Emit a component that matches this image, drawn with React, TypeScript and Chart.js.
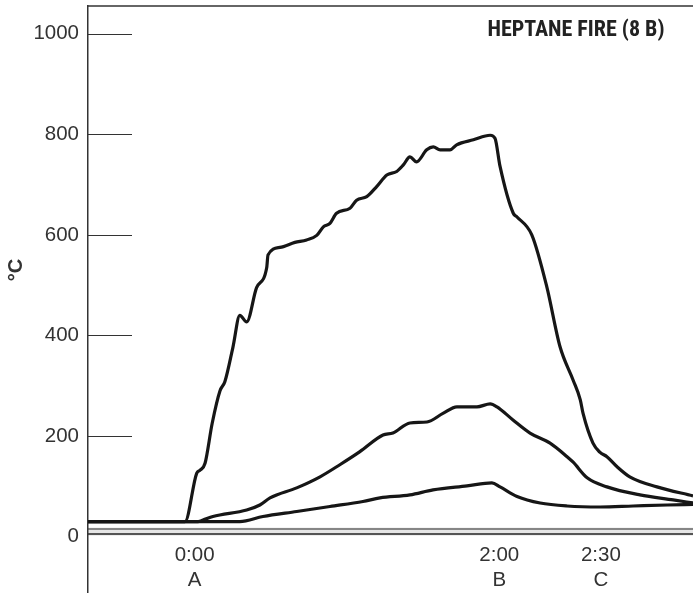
import React, { useEffect, useRef } from "react";
import { Chart, registerables } from "chart.js";

Chart.register(...registerables);

// ---- data (time in seconds relative to event A, temperature in °C) ----
const mainTimes = [
  -42, -3.8, 0.8, 2.1, 4.1, 6.9, 10.0, 11.9, 15.1, 17.8,
  20.5, 24.4, 28.4, 28.9, 33.6, 39.5, 44.1, 48.1, 50.7, 53.3,
  55.9, 61.2, 63.8, 67.8, 71.7, 75.7, 79.6, 82.2, 84.8, 87.4,
  91.4, 94.0, 96.7, 100.6, 103.2, 109.8, 116.4, 118.3, 120.3, 125.5,
  126.9, 132.8, 138.7, 143.9, 149.1, 151.9, 153.0, 156.9, 159.6, 162.4,
  166.4, 171.4, 182.1, 196.3,
];
const mainTemps = [
  30, 30, 126, 132, 146, 225, 290, 308, 377, 440,
  427, 495, 535, 560, 575, 585, 590, 599, 616, 623,
  643, 653, 669, 676, 696, 719, 726, 739, 755, 745,
  769, 775, 769, 769, 779, 789, 798, 792, 736, 643,
  636, 600, 497, 378, 311, 272, 245, 186, 168, 159,
  139, 119, 99, 81,
];

const midTimes = [
  -42, 1.4, 3.3, 7.2, 20.5, 25.7, 29.7, 40.2, 49.4, 57.2,
  65.1, 74.2, 78.1, 84.8, 91.5, 97.8, 103.3, 111.2, 116.4, 119.1,
  125.4, 132.1, 140.0, 146.7, 149.1, 154.6, 162.4, 175.4, 188.5, 196.3,
];
const midTemps = [
  30, 30, 33, 40, 53, 63, 77, 97, 119, 143,
  169, 202, 206, 226, 228, 245, 258, 258, 264, 258,
  232, 206, 186, 159, 148, 117, 99, 83, 73, 67,
];

const lowTimes = [
  -42, 17.8, 26.9, 40.2, 53.3, 66.3, 73.0, 84.8, 93.9, 107.3,
  117.1, 120.3, 127.0, 136.1, 146.7, 159.7, 172.7, 186.1, 196.3,
];
const lowTemps = [
  30, 30, 40, 50, 60, 70, 77, 83, 93, 101,
  107, 99, 80, 67, 61, 59, 61, 63, 64,
];

const yTickValues = [0, 200, 400, 600, 800, 1000];
const xTickValues = [0, 120, 160];
const xTickTimes = ["0:00", "2:00", "2:30"];
const xTickEvents = ["A", "B", "C"];

const chartTitle = "HEPTANE FIRE (8 B)";
const yAxisTitle = "°C";

// ---- styling ----
const INK = "#161616";
const TEXT = "#333333";
const LABEL_FONT = "'Liberation Sans', Arial, sans-serif";

const toPoints = (xs: number[], ys: number[]) =>
  xs.map((x, i) => ({ x, y: ys[i] }));

const decorPlugin = {
  id: "decor",
  beforeDraw(chart: any) {
    const { ctx, chartArea: a, scales } = chart;
    const y = scales.y;
    ctx.save();
    // light band around the base rule
    const top = y.getPixelForValue(18);
    const bot = y.getPixelForValue(2);
    ctx.fillStyle = "#e6e6e6";
    ctx.fillRect(a.left, top, a.right - a.left, bot - top);
    // upper rule of the double line
    ctx.strokeStyle = "#666";
    ctx.lineWidth = 1.5;
    const yl = y.getPixelForValue(15);
    ctx.beginPath();
    ctx.moveTo(a.left, yl);
    ctx.lineTo(a.right, yl);
    ctx.stroke();
    ctx.restore();
  },
  afterDraw(chart: any) {
    const { ctx, chartArea: a, scales } = chart;
    const y = scales.y;
    ctx.save();
    // top frame line
    ctx.strokeStyle = TEXT;
    ctx.lineWidth = 1.5;
    ctx.beginPath();
    ctx.moveTo(a.left, a.top);
    ctx.lineTo(a.right, a.top);
    ctx.stroke();
    // inward tick marks (the zero mark coincides with the base rule)
    ctx.lineWidth = 1.2;
    y.ticks.forEach((t: any) => {
      if (t.value === 0) return;
      const py = Math.round(y.getPixelForValue(t.value)) + 0.5;
      ctx.beginPath();
      ctx.moveTo(a.left, py);
      ctx.lineTo(a.left + 44, py);
      ctx.stroke();
    });
    // chart title
    ctx.fillStyle = "#222";
    ctx.font = "bold 22px 'Liberation Sans Narrow', 'Roboto Condensed', Roboto, sans-serif";
    ctx.textAlign = "center";
    ctx.textBaseline = "middle";
    ctx.fillText(chartTitle, 576, 30);
    // y-axis title, rotated
    ctx.translate(16, 270);
    ctx.rotate(-Math.PI / 2);
    ctx.font = "bold 20px " + LABEL_FONT;
    ctx.fillStyle = TEXT;
    ctx.fillText(yAxisTitle, 0, 0);
    ctx.restore();
  },
};

export default function App() {
  const ref = useRef<HTMLCanvasElement | null>(null);

  useEffect(() => {
    if (!ref.current) return;
    const lineStyle = {
      borderColor: INK,
      borderWidth: 3.2,
      pointRadius: 0,
      fill: false,
      cubicInterpolationMode: "monotone" as const,
    };
    const chart = new Chart(ref.current, {
      type: "line",
      data: {
        datasets: [
          { label: "Upper", data: toPoints(mainTimes, mainTemps), ...lineStyle },
          { label: "Middle", data: toPoints(midTimes, midTemps), ...lineStyle },
          { label: "Lower", data: toPoints(lowTimes, lowTemps), ...lineStyle },
        ],
      },
      options: {
        animation: false,
        responsive: false,
        layout: { padding: { top: 6, left: 0, right: 0, bottom: 0 } },
        plugins: {
          legend: { display: false },
          tooltip: { enabled: false },
          title: { display: false },
        },
        scales: {
          x: {
            type: "linear",
            min: -42,
            max: 196.3,
            position: { y: 5 } as any,
            grid: { display: false, drawTicks: false },
            border: { display: true, color: "#555", width: 2 },
            afterBuildTicks: (s: any) => {
              s.ticks = xTickValues.map((v) => ({ value: v }));
            },
            afterFit: (s: any) => {
              s.paddingLeft = 0;
              s.paddingRight = 0;
            },
            ticks: {
              autoSkip: false,
              maxRotation: 0,
              minRotation: 0,
              padding: 9,
              color: TEXT,
              font: { family: LABEL_FONT, size: 20.5, lineHeight: 1.2 },
              callback: (v: any) => {
                const i = xTickValues.indexOf(Number(v));
                return i >= 0 ? [xTickTimes[i], xTickEvents[i]] : "";
              },
            },
          },
          y: {
            type: "linear",
            position: "left",
            min: -112,
            max: 1055,
            grid: { display: false, drawTicks: false },
            border: { display: true, color: TEXT, width: 1.5 },
            afterBuildTicks: (s: any) => {
              s.ticks = yTickValues.map((v) => ({ value: v }));
            },
            afterFit: (s: any) => {
              s.width = 88;
              s.paddingTop = 0;
              s.paddingBottom = 0;
            },
            ticks: {
              padding: 9,
              color: TEXT,
              font: { family: LABEL_FONT, size: 20.5 },
              callback: (v: any) => String(v),
            },
          },
        },
      },
      plugins: [decorPlugin],
    });
    return () => chart.destroy();
  }, []);

  return (
    <div style={{ position: "absolute", left: 0, top: 0, width: 693, height: 593, background: "#fff" }}>
      <canvas ref={ref} width={693} height={593} style={{ display: "block" }} />
    </div>
  );
}
